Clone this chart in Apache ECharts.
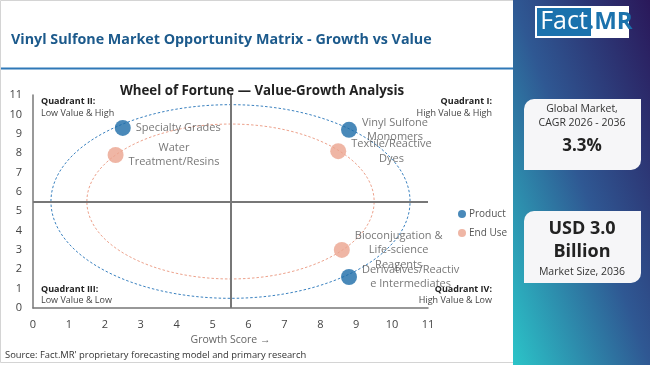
<!DOCTYPE html>
<html><head><meta charset="utf-8">
<script src="https://cdn.jsdelivr.net/npm/echarts@6/dist/echarts.min.js"></script>
<style>html,body{margin:0;padding:0;background:#fff}#c{width:650px;height:365px}</style>
</head><body><div id="c"></div>
<script>
// ---------------- data ----------------
const axisTicks = [0, 1, 2, 3, 4, 5, 6, 7, 8, 9, 10, 11];
const productNames = ['Specialty Grades', 'Vinyl Sulfone Monomers', 'Derivatives/Reactive Intermediates'];
const productGrowth = [2.5, 8.8, 8.8];
const productValue = [9.3, 9.2, 1.6];
const endUseNames = ['Water Treatment/Resins', 'Textile/Reactive Dyes', 'Bioconjugation & Life-science Reagents'];
const endUseGrowth = [2.3, 8.5, 8.6];
const endUseValue = [7.9, 8.1, 3.0];
const wheelCenter = [5.5, 5.5];
const wheelRadius = { product: 5, endUse: 4 };
const quadrantSplit = 5.5;
const cagrText = '3.3%';
const marketSizeText = ['USD 3.0', 'Billion'];

// ---------------- styling ----------------
const FONT = '"Open Sans", "Noto Sans", sans-serif';
const BLUE = '#1b6ca8';
const SALMON = '#eba48e';
const LABEL_SIZE = 11;
const WRAP_W = 100;

const chart = echarts.init(document.getElementById('c'), null, { renderer: 'canvas' });

// text wrapping (break mode, words split on spaces, long words split by char)
const mctx = document.createElement('canvas').getContext('2d');
mctx.font = LABEL_SIZE + 'px ' + FONT;
function tw(s) { return mctx.measureText(s).width; }
function wrap(text) {
  const words = text.split(' ');
  const lines = [];
  let cur = '';
  words.forEach(w => {
    const cand = cur ? cur + ' ' + w : w;
    if (tw(cand) <= WRAP_W) { cur = cand; return; }
    if (cur) { lines.push(cur); cur = ''; }
    let piece = '';
    for (const ch of w) {
      if (tw(piece + ch) > WRAP_W && piece) { lines.push(piece); piece = ch; }
      else piece += ch;
    }
    cur = piece;
  });
  if (cur) lines.push(cur);
  return lines;
}
function buildPoints(names, xs, ys) {
  return names.map((n, i) => {
    const lines = wrap(n);
    const w = Math.max(...lines.map(tw));
    return {
      name: n, value: [xs[i], ys[i]],
      label: { formatter: lines.join('\n'), offset: [w / 2, 0] }
    };
  });
}

function ringSeries(name, radius, color) {
  return {
    type: 'custom', name: name + ' ring', silent: true, z: 1,
    data: [[wheelCenter[0], wheelCenter[1], radius]],
    renderItem: (params, api) => {
      const cx = api.value(0), cy = api.value(1), r = api.value(2);
      const c = api.coord([cx, cy]);
      const rx = api.coord([cx + r, cy])[0] - c[0];
      const ry = c[1] - api.coord([cx, cy + r])[1];
      return {
        type: 'ellipse',
        shape: { cx: c[0], cy: c[1], rx: rx, ry: ry },
        style: { fill: null, stroke: color, lineWidth: 1, lineDash: [2.5, 2] }
      };
    }
  };
}

const pointLabel = {
  show: true, position: 'right', distance: 5, align: 'center', verticalAlign: 'middle',
  color: '#555', fontSize: LABEL_SIZE, fontFamily: FONT, lineHeight: 14.5
};

const option = {
  animation: false,
  textStyle: { fontFamily: FONT },
  grid: { left: 33, right: 222, top: 95, bottom: 57, containLabel: false, outerBoundsMode: 'none' },
  xAxis: {
    type: 'value', min: axisTicks[0], max: axisTicks[axisTicks.length - 1], interval: 1,
    name: 'Growth Score \u2192', nameLocation: 'middle', nameGap: 21,
    nameTextStyle: { color: '#666', fontSize: 10.5, fontFamily: FONT },
    axisLine: { show: true, lineStyle: { color: '#777', width: 1.5 } },
    axisTick: { show: false }, splitLine: { show: false },
    axisLabel: { color: '#444', fontSize: 11, margin: 11, fontFamily: FONT }
  },
  yAxis: {
    type: 'value', min: axisTicks[0], max: axisTicks[axisTicks.length - 1], interval: 1,
    name: '\u2190 Value Score', nameLocation: 'middle', nameGap: 18, nameRotate: 90,
    nameTextStyle: { color: '#666', fontSize: 10.5, fontFamily: FONT },
    axisLine: { show: true, lineStyle: { color: '#777', width: 1.5 } },
    axisTick: { show: false }, splitLine: { show: false },
    axisLabel: { color: '#444', fontSize: 11, margin: 11, fontFamily: FONT }
  },
  legend: {
    data: ['Product', 'End Use'], orient: 'vertical', left: 453, top: 204,
    icon: 'circle', itemWidth: 8, itemHeight: 8, itemGap: 9,
    textStyle: { color: '#555', fontSize: 10, fontFamily: FONT, padding: [0, 0, 0, -2] }
  },
  title: [
    { text: 'Vinyl Sulfone Market Opportunity Matrix - Growth vs Value', left: 6, top: 28,
      textStyle: { color: '#1c5a8c', fontSize: 14.3, fontWeight: 'bold', fontFamily: FONT } },
    { text: 'Wheel of Fortune \u2014 Value-Growth Analysis', left: 257, top: 80, textAlign: 'center',
      textStyle: { color: '#222', fontSize: 13.3, fontWeight: 'bold', fontFamily: FONT } },
    { text: "Source: Fact.MR' proprietary forecasting model and primary research", left: 0, top: 346,
      textStyle: { color: '#333', fontSize: 9.4, fontWeight: 'normal', fontFamily: FONT } }
  ],
  graphic: [
    { type: 'rect', z: -100, shape: { x: 0.5, y: 0.5, width: 513, height: 362 },
      style: { fill: '#fff', stroke: '#d4d4d4', lineWidth: 1 } },
    { type: 'rect', z: -99, shape: { x: 1, y: 67.5, width: 513, height: 2 }, style: { fill: '#2f78b7' } },
    { type: 'rect', z: -99, shape: { x: 513, y: 0, width: 137, height: 365 },
      style: { fill: new echarts.graphic.LinearGradient(650, 0, 410, 90, [
        { offset: 0, color: '#2a185a' }, { offset: 0.5, color: '#2f5893' }, { offset: 1, color: '#2bc4c8' }
      ], true) } },
    // logo
    { type: 'rect', z: 10, shape: { x: 535, y: 6, width: 94, height: 32 }, style: { fill: '#fff' } },
    { type: 'rect', z: 11, shape: { x: 537, y: 8, width: 54, height: 28 }, style: { fill: '#1b72ad' } },
    { type: 'text', z: 12, style: { x: 564, y: 22, text: 'Fact', fill: '#fff', font: '25px ' + FONT, align: 'center', verticalAlign: 'middle' } },
    { type: 'text', z: 12, style: { x: 610, y: 22, text: '.MR', fill: '#1b72ad', font: 'bold 24px ' + FONT, align: 'center', verticalAlign: 'middle' } },
    // cards
    { type: 'rect', z: 10, shape: { x: 524, y: 99, width: 117, height: 71, r: [10, 0, 10, 0] }, style: { fill: '#f6f6f8' } },
    { type: 'text', z: 12, style: { x: 582, y: 109, text: 'Global Market,', fill: '#333', font: '10.5px ' + FONT, align: 'center', verticalAlign: 'middle' } },
    { type: 'text', z: 12, style: { x: 582, y: 123, text: 'CAGR 2026 - 2036', fill: '#333', font: '10.5px ' + FONT, align: 'center', verticalAlign: 'middle' } },
    { type: 'text', z: 12, style: { x: 582, y: 146, text: cagrText, fill: '#222', font: 'bold 17px ' + FONT, align: 'center', verticalAlign: 'middle' } },
    { type: 'rect', z: 10, shape: { x: 524, y: 211, width: 117, height: 72, r: [10, 0, 10, 0] }, style: { fill: '#f6f6f8' } },
    { type: 'text', z: 12, style: { x: 582, y: 229, text: marketSizeText[0], fill: '#222', font: 'bold 18px ' + FONT, align: 'center', verticalAlign: 'middle' } },
    { type: 'text', z: 12, style: { x: 582, y: 252, text: marketSizeText[1], fill: '#222', font: 'bold 18px ' + FONT, align: 'center', verticalAlign: 'middle' } },
    { type: 'text', z: 12, style: { x: 582, y: 272, text: 'Market Size, 2036', fill: '#333', font: '10.5px ' + FONT, align: 'center', verticalAlign: 'middle' } },
    // quadrant labels
    { type: 'text', z: 12, style: { x: 41, y: 101, text: 'Quadrant II:', fill: '#222', font: 'bold 9px ' + FONT, verticalAlign: 'middle' } },
    { type: 'text', z: 12, style: { x: 41, y: 113, text: 'Low Value & High', fill: '#444', font: '9px ' + FONT, verticalAlign: 'middle' } },
    { type: 'text', z: 12, style: { x: 492, y: 101, text: 'Quadrant I:', fill: '#222', font: 'bold 9px ' + FONT, align: 'right', verticalAlign: 'middle' } },
    { type: 'text', z: 12, style: { x: 492, y: 113, text: 'High Value & High', fill: '#444', font: '9px ' + FONT, align: 'right', verticalAlign: 'middle' } },
    { type: 'text', z: 12, style: { x: 41, y: 289, text: 'Quadrant III:', fill: '#222', font: 'bold 9px ' + FONT, verticalAlign: 'middle' } },
    { type: 'text', z: 12, style: { x: 41, y: 300, text: 'Low Value & Low', fill: '#444', font: '9px ' + FONT, verticalAlign: 'middle' } },
    { type: 'text', z: 12, style: { x: 492, y: 289, text: 'Quadrant IV:', fill: '#222', font: 'bold 9px ' + FONT, align: 'right', verticalAlign: 'middle' } },
    { type: 'text', z: 12, style: { x: 492, y: 300, text: 'High Value & Low', fill: '#444', font: '9px ' + FONT, align: 'right', verticalAlign: 'middle' } }
  ],
  series: [
    ringSeries('Product', wheelRadius.product, '#3b82c0'),
    ringSeries('End Use', wheelRadius.endUse, '#eda28c'),
    {
      type: 'line', name: 'quadrants', silent: true, data: [], z: 1,
      markLine: {
        silent: true, symbol: 'none', label: { show: false },
        lineStyle: { color: '#777', width: 2, type: 'solid' },
        data: [{ xAxis: quadrantSplit }, { yAxis: quadrantSplit }]
      }
    },
    {
      type: 'scatter', name: 'Product', symbolSize: 16, z: 5,
      itemStyle: { color: BLUE },
      label: pointLabel,
      data: buildPoints(productNames, productGrowth, productValue)
    },
    {
      type: 'scatter', name: 'End Use', symbolSize: 16, z: 4,
      itemStyle: { color: SALMON },
      label: pointLabel,
      data: buildPoints(endUseNames, endUseGrowth, endUseValue)
    }
  ]
};
chart.setOption(option);
</script>
</body></html>
